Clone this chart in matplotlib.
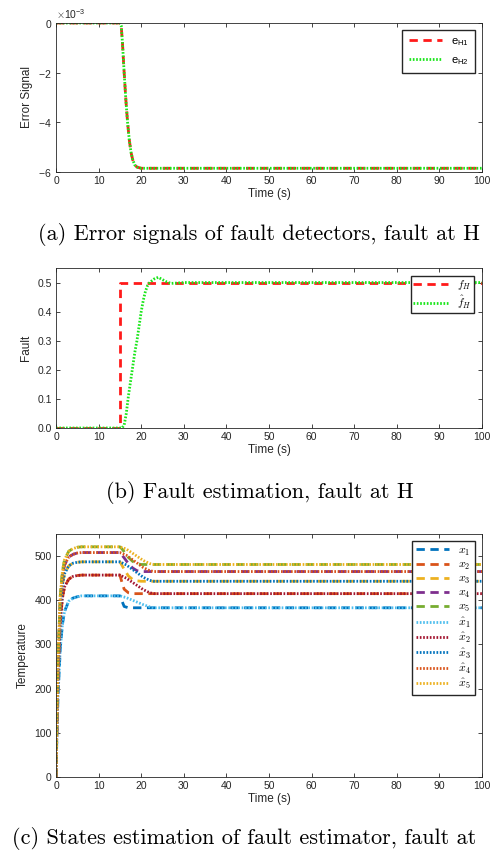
import numpy as np
import matplotlib.pyplot as plt
from matplotlib.ticker import ScalarFormatter

plt.rcParams['font.family'] = ['Liberation Sans', 'DejaVu Sans']
plt.rcParams['mathtext.fontset'] = 'cm'
plt.rcParams['axes.linewidth'] = 0.6
plt.rcParams['axes.unicode_minus'] = False

# (a) error signals of the fault detectors
t_a = [0, 15, 15.3, 15.6, 16, 16.4, 16.8, 17.2, 17.6, 18, 18.5, 19, 20, 100]
e_h1 = [0, 0, -0.1, -0.8, -2.0, -3.1, -4.0, -4.7, -5.2, -5.5, -5.72, -5.8, -5.85, -5.85]
e_h2 = [0, 0, -0.1, -0.8, -2.0, -3.1, -4.0, -4.7, -5.2, -5.5, -5.72, -5.8, -5.85, -5.85]

# (b) fault and its estimate
t_f = [0, 15, 15, 100]
f_h = [0, 0, 0.5, 0.5]
t_fhat = [0, 15.5, 16, 16.5, 17, 17.5, 18, 18.5, 19, 19.5, 20, 20.5, 21, 21.5, 22,
          23, 24, 25, 26, 27, 28, 30, 100]
f_hat = [0, 0, 0.01, 0.05, 0.11, 0.16, 0.21, 0.26, 0.3, 0.35, 0.4, 0.44, 0.47, 0.49, 0.5,
         0.512, 0.518, 0.51, 0.502, 0.497, 0.498, 0.5, 0.5]

# (c) states and their estimates
t_rise = [0, 0.25, 0.5, 1, 1.5, 2, 3, 4, 5, 6, 8, 15]
x_rise = [
    [0, 110, 190, 290, 345, 375, 398, 405, 408, 410, 410, 410],
    [0, 130, 230, 350, 405, 430, 448, 454, 456, 457, 457, 457],
    [0, 140, 250, 380, 435, 460, 478, 484, 486, 487, 487, 487],
    [0, 150, 265, 400, 455, 480, 498, 504, 507, 508, 508, 508],
    [0, 155, 275, 410, 465, 492, 511, 517, 520, 521, 521, 521],
]
t_true_after = [15.5, 16, 17, 18, 19, 20, 100]
x_true_after = [
    [398, 386, 383, 383, 383, 383, 383],
    [440, 425, 417, 415, 415, 415, 415],
    [479, 470, 455, 447, 444, 443, 443],
    [502, 496, 483, 473, 467, 465, 465],
    [516, 510, 497, 488, 483, 481, 481],
]
t_est_after = [16.5, 18.5, 20.5, 22, 23, 100]
x_est_after = [
    [406, 398, 390, 385, 383, 383],
    [450, 437, 424, 417, 415, 415],
    [480, 466, 452, 445, 443, 443],
    [502, 488, 474, 467, 465, 465],
    [516, 503, 490, 483, 481, 481],
]
true_colors = ['#0072BD', '#D95319', '#EDB120', '#7E2F8E', '#77AC30']
est_colors = ['#4DBEEE', '#A2142F', '#0072BD', '#D95319', '#EDB120']

fig = plt.figure(figsize=(4.92, 8.6), dpi=100)
W, H = 492, 860
ax_a = fig.add_axes([56 / W, 1 - 172 / H, 426 / W, 149 / H])
ax_b = fig.add_axes([56 / W, 1 - 428 / H, 426 / W, 160 / H])
ax_c = fig.add_axes([56 / W, 1 - 777 / H, 426 / W, 243 / H])

gray = '#262626'
lw = 2.0

ax_a.plot(t_a, np.array(e_h1) * 1e-3, '--', color='#ff1a1a', lw=lw, dashes=(3, 2), label=r'$\mathregular{e_{H1}}$')
ax_a.plot(t_a, np.array(e_h2) * 1e-3, ':', color='#19e619', lw=lw, dashes=(0.6, 0.6), label=r'$\mathregular{e_{H2}}$')
ax_a.set_ylim(-6e-3, 0)
ax_a.set_yticks([-6e-3, -4e-3, -2e-3, 0])
fmt = ScalarFormatter(useMathText=True)
fmt.set_powerlimits((-2, 2))
ax_a.yaxis.set_major_formatter(fmt)
ax_a.set_ylabel('Error Signal')

ax_b.plot(t_f, f_h, '--', color='#ff1a1a', lw=lw, dashes=(3, 2), label=r'$f_H$')
ax_b.plot(t_fhat, f_hat, ':', color='#19e619', lw=lw, dashes=(0.6, 0.6), label=r'$\hat{f}_H$')
ax_b.set_ylim(0, 0.55)
ax_b.set_yticks([0, 0.1, 0.2, 0.3, 0.4, 0.5])
ax_b.set_ylabel('Fault')

for i in range(5):
    ax_c.plot(t_rise + t_true_after, x_rise[i] + x_true_after[i], '--', color=true_colors[i],
              lw=lw, dashes=(3, 2), label=r'$x_%d$' % (i + 1))
for i in range(5):
    ax_c.plot(t_rise + t_est_after, x_rise[i] + x_est_after[i], ':', color=est_colors[i],
              lw=lw, dashes=(0.6, 0.6), label=r'$\hat{x}_%d$' % (i + 1))
ax_c.set_ylim(0, 550)
ax_c.set_yticks([0, 100, 200, 300, 400, 500])
ax_c.set_ylabel('Temperature')

for ax in (ax_a, ax_b, ax_c):
    ax.set_xlim(0, 100)
    ax.set_xticks(range(0, 101, 10))
    ax.set_xlabel('Time (s)', fontsize=8.5, color=gray, labelpad=1)
    ax.yaxis.label.set_size(8.5)
    ax.yaxis.label.set_color(gray)
    ax.tick_params(direction='in', length=3, width=0.6, top=True, right=True,
                   labelsize=7.5, colors=gray, pad=3)
    for s in ax.spines.values():
        s.set_color(gray)
    ax.yaxis.get_offset_text().set_size(7.5)
    ax.yaxis.get_offset_text().set_color(gray)

ax_a.legend(loc='upper right', fontsize=8, fancybox=False, edgecolor=gray, framealpha=1,
            handlelength=3.0, borderaxespad=0.6, borderpad=0.6, labelspacing=0.6)
ax_b.legend(loc='upper right', fontsize=8, fancybox=False, edgecolor=gray, framealpha=1,
            handlelength=3.2, borderaxespad=0.7, borderpad=0.2, labelspacing=0.15)
ax_c.legend(loc='upper right', fontsize=8.5, fancybox=False, edgecolor=gray, framealpha=1,
            handlelength=2.8, borderaxespad=0.6, borderpad=0.3, labelspacing=0.1)

cap = dict(family='cmr10', fontsize=16, color='black')
fig.text(259 / W, 1 - 235 / H, '(a) Error signals of fault detectors, fault at H', ha='center', va='center', **cap)
fig.text(260 / W, 1 - 493 / H, '(b) Fault estimation, fault at H', ha='center', va='center', **cap)
# the reference crops this caption at the right edge after "at"
fig.text(12 / W, 1 - 838 / H, '(c) States estimation of fault estimator, fault at', ha='left', va='center', **cap)

fig.savefig('out.png', dpi=100)
